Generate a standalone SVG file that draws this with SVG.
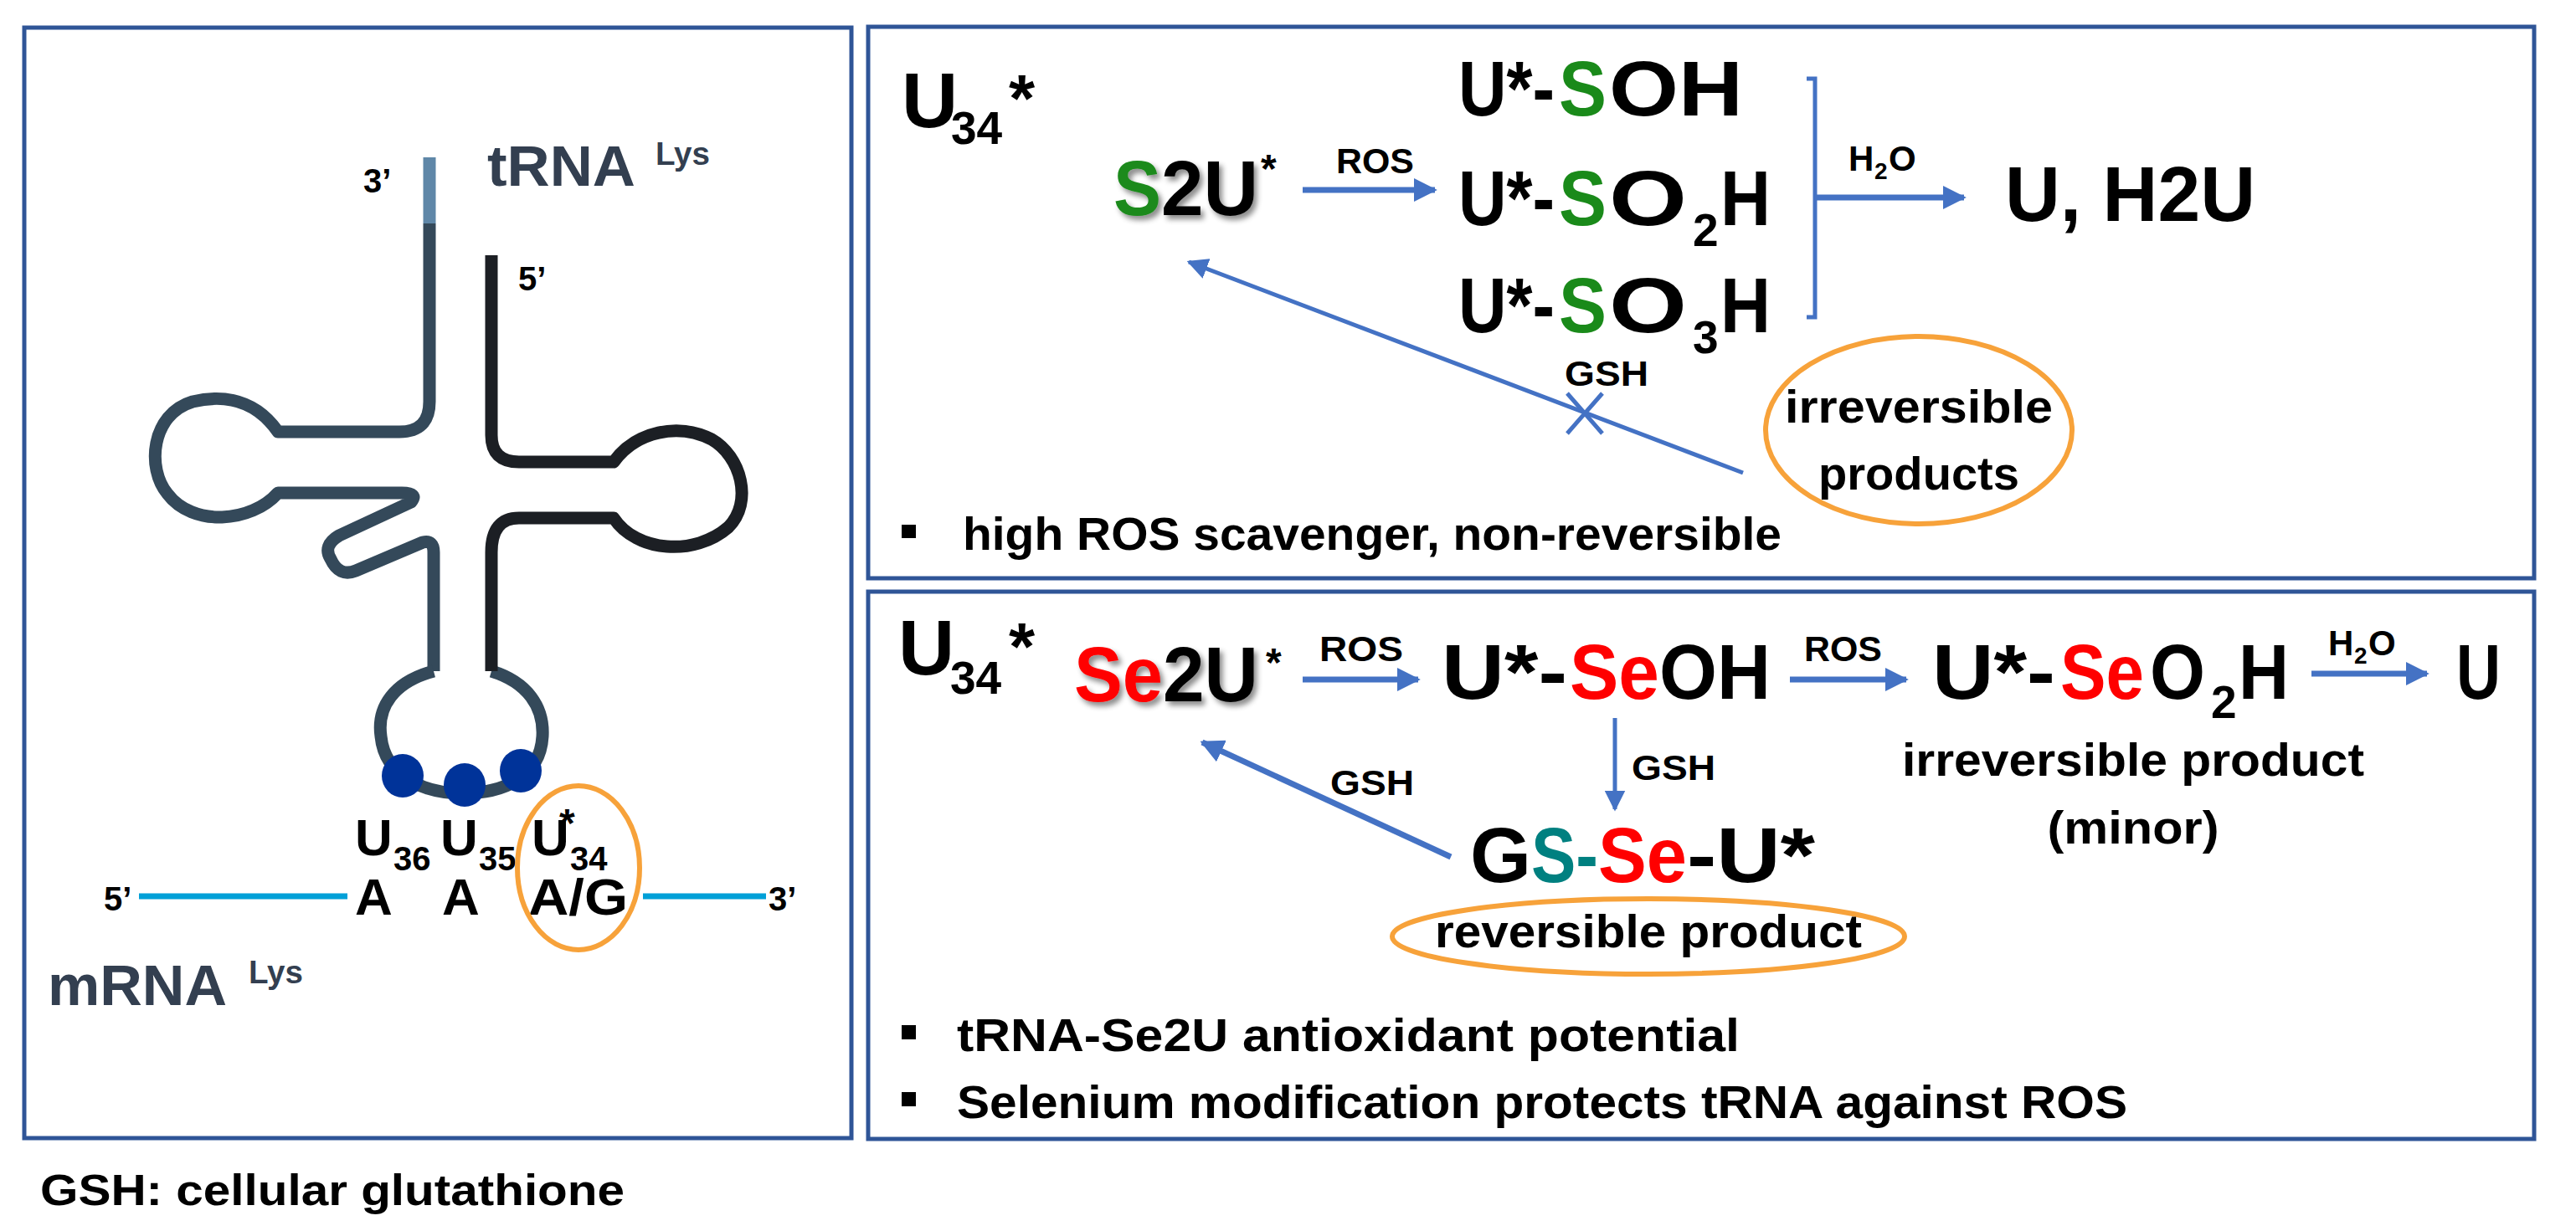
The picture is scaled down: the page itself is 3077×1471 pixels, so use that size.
<svg xmlns="http://www.w3.org/2000/svg" width="3077" height="1471" viewBox="0 0 3077 1471">
<style>
text{font-family:"Liberation Sans",Arial,sans-serif;font-weight:bold;fill:#000}
.panel{fill:#fff;stroke:#2f5597;stroke-width:5}
.arr{stroke:#4472c4;stroke-width:7;fill:none}
.thin{stroke:#4472c4;stroke-width:5;fill:none}
.g{fill:#1a8a1a}.r{fill:#ff0000}.t{fill:#008080}.sl{fill:#333f50}
.orange{fill:none;stroke:#f7a23a;stroke-width:6}
.big{font-size:93px}.sm{font-size:42px}.sub{font-size:55px}
</style>
<defs>
<marker id="ah" viewBox="0 0 10 10" refX="9" refY="5" markerWidth="4" markerHeight="4" orient="auto"><path d="M0,0L10,5L0,10z" fill="#4472c4"/></marker>
<marker id="ah2" viewBox="0 0 10 10" refX="9" refY="5" markerWidth="5" markerHeight="5" orient="auto"><path d="M0,0L10,5L0,10z" fill="#4472c4"/></marker>
<filter id="sh" x="-10%" y="-10%" width="130%" height="130%"><feDropShadow dx="4" dy="5" stdDeviation="3" flood-color="#000" flood-opacity="0.45"/></filter>
</defs>
<rect width="3077" height="1471" fill="#fff"/>

<g id="left-panel">
<rect class="panel" x="29" y="33" width="988" height="1327"/>
<g fill="none" stroke-width="15" stroke-linejoin="round">
<path d="M513,188V267" stroke="#5f87a8"/>
<path d="M513,267V480Q513,516 477,516H332C300,470 255,474 230,480C180,495 175,560 200,590C230,630 300,625 332,589H480Q500,589 491,600L405,640Q385,652 395,668Q405,690 425,682L505,648Q518,645 518,660V802" stroke="#34495a"/>
<path d="M518,802C470,815 450,845 455,880C460,930 510,948 552,948C600,948 645,930 648,880C650,845 630,815 587,802" stroke="#34495a"/>
<path d="M587,802V660Q587,619 620,619H733C760,660 830,665 870,630C900,600 885,545 850,525C810,505 760,515 733,552H620Q587,552 587,520V305" stroke="#1c1f24"/>
</g>
<g fill="#003399"><ellipse cx="481" cy="927" rx="25" ry="26"/><ellipse cx="555" cy="938" rx="25" ry="26"/><ellipse cx="622" cy="921" rx="25" ry="26"/></g>
<text class="sl" x="582" y="222" font-size="68" textLength="177" lengthAdjust="spacingAndGlyphs">tRNA</text>
<text class="sl" x="783" y="197" font-size="38" textLength="65" lengthAdjust="spacingAndGlyphs">Lys</text>
<text x="434" y="230" font-size="40">3’</text>
<text x="619" y="347" font-size="40">5’</text>
<path d="M166,1071H415M768,1071H915" stroke="#00a0d8" stroke-width="7"/>
<text x="124" y="1088" font-size="40">5’</text>
<text x="918" y="1088" font-size="40">3’</text>
<text x="424" y="1022" font-size="62">U</text><text x="470" y="1040" font-size="40">36</text>
<text x="526" y="1022" font-size="62">U</text><text x="572" y="1040" font-size="40">35</text>
<text x="635" y="1022" font-size="62">U</text><text x="681" y="1040" font-size="40">34</text>
<text x="668" y="1000" font-size="48">*</text>
<text x="424" y="1093" font-size="62">A</text>
<text x="528" y="1093" font-size="62">A</text>
<text x="631" y="1093" font-size="62" textLength="119" lengthAdjust="spacingAndGlyphs">A/G</text>
<ellipse class="orange" cx="691" cy="1037" rx="73" ry="98"/>
<text class="sl" x="57" y="1201" font-size="68" textLength="214" lengthAdjust="spacingAndGlyphs">mRNA</text>
<text class="sl" x="297" y="1175" font-size="38" textLength="65" lengthAdjust="spacingAndGlyphs">Lys</text>
</g>
<text x="48" y="1440" font-size="52" textLength="698" lengthAdjust="spacingAndGlyphs">GSH: cellular glutathione</text>

<g id="top-panel">
<rect class="panel" x="1037" y="32" width="1990" height="659"/>
<text class="big" x="1077" y="152">U</text><text class="sub" x="1136" y="172">34</text><text x="1205" y="145" font-size="80">*</text>
<g filter="url(#sh)"><text class="big g" x="1330" y="257" textLength="57" lengthAdjust="spacingAndGlyphs">S</text><text class="big" x="1387" y="257" textLength="116" lengthAdjust="spacingAndGlyphs">2U</text></g>
<text x="1506" y="218" font-size="48">*</text>
<text class="sm" x="1596" y="207" textLength="93" lengthAdjust="spacingAndGlyphs">ROS</text>
<text class="big" x="1742" y="138" textLength="115" lengthAdjust="spacingAndGlyphs">U*-</text><text class="big g" x="1862" y="138" textLength="57" lengthAdjust="spacingAndGlyphs">S</text><text class="big" x="1922" y="138" textLength="160" lengthAdjust="spacingAndGlyphs">OH</text>
<text class="big" x="1742" y="269" textLength="115" lengthAdjust="spacingAndGlyphs">U*-</text><text class="big g" x="1862" y="269" textLength="57" lengthAdjust="spacingAndGlyphs">S</text><text class="big" x="1922" y="269" textLength="93" lengthAdjust="spacingAndGlyphs">O</text><text class="sub" x="2022" y="294">2</text><text class="big" x="2055" y="269" textLength="60" lengthAdjust="spacingAndGlyphs">H</text>
<text class="big" x="1742" y="397" textLength="115" lengthAdjust="spacingAndGlyphs">U*-</text><text class="big g" x="1862" y="397" textLength="57" lengthAdjust="spacingAndGlyphs">S</text><text class="big" x="1922" y="397" textLength="93" lengthAdjust="spacingAndGlyphs">O</text><text class="sub" x="2022" y="422">3</text><text class="big" x="2055" y="397" textLength="60" lengthAdjust="spacingAndGlyphs">H</text>
<text class="sm" x="2208" y="204">H</text><text x="2239" y="214" font-size="28">2</text><text class="sm" x="2256" y="204">O</text>
<text class="big" x="2395" y="264" textLength="299" lengthAdjust="spacingAndGlyphs">U, H2U</text>
<ellipse class="orange" cx="2292" cy="514" rx="183" ry="112"/>
<text x="2292" y="505" font-size="56" text-anchor="middle" textLength="320" lengthAdjust="spacingAndGlyphs">irreversible</text>
<text x="2292" y="585" font-size="56" text-anchor="middle" textLength="240" lengthAdjust="spacingAndGlyphs">products</text>
<text class="sm" x="1919" y="461" text-anchor="middle" textLength="100" lengthAdjust="spacingAndGlyphs">GSH</text>
<rect x="1077" y="627" width="17" height="16"/>
<text x="1150" y="657" font-size="56" textLength="978" lengthAdjust="spacingAndGlyphs">high ROS scavenger, non-reversible</text>
</g>

<g id="bottom-panel">
<rect class="panel" x="1037" y="707" width="1990" height="654"/>
<text class="big" x="1073" y="806">U</text><text class="sub" x="1135" y="829">34</text><text x="1205" y="800" font-size="80">*</text>
<g filter="url(#sh)"><text class="big r" x="1283" y="838" textLength="106" lengthAdjust="spacingAndGlyphs">Se</text><text class="big" x="1389" y="838" textLength="114" lengthAdjust="spacingAndGlyphs">2U</text></g>
<text x="1512" y="808" font-size="48">*</text>
<text class="sm" x="1576" y="790" textLength="100" lengthAdjust="spacingAndGlyphs">ROS</text>
<text class="big" x="1722" y="835" textLength="150" lengthAdjust="spacingAndGlyphs">U*-</text><text class="big r" x="1875" y="835" textLength="107" lengthAdjust="spacingAndGlyphs">Se</text><text class="big" x="1982" y="835" textLength="133" lengthAdjust="spacingAndGlyphs">OH</text>
<text class="sm" x="2155" y="790" textLength="93" lengthAdjust="spacingAndGlyphs">ROS</text>
<text class="big" x="2308" y="835" textLength="147" lengthAdjust="spacingAndGlyphs">U*-</text><text class="big r" x="2461" y="835" textLength="100" lengthAdjust="spacingAndGlyphs">Se</text><text class="big" x="2568" y="835" textLength="66" lengthAdjust="spacingAndGlyphs">O</text><text class="sub" x="2641" y="858">2</text><text class="big" x="2674" y="835" textLength="60" lengthAdjust="spacingAndGlyphs">H</text>
<text class="sm" x="2781" y="783">H</text><text x="2812" y="793" font-size="28">2</text><text class="sm" x="2829" y="783">O</text>
<text class="big" x="2934" y="835" textLength="53" lengthAdjust="spacingAndGlyphs">U</text>
<text class="sm" x="1949" y="932" textLength="100" lengthAdjust="spacingAndGlyphs">GSH</text>
<text class="sm" x="1589" y="950" textLength="100" lengthAdjust="spacingAndGlyphs">GSH</text>
<text x="2548" y="927" font-size="56" text-anchor="middle" textLength="552" lengthAdjust="spacingAndGlyphs">irreversible product</text>
<text x="2548" y="1008" font-size="56" text-anchor="middle" textLength="205" lengthAdjust="spacingAndGlyphs">(minor)</text>
<text class="big" x="1756" y="1054" textLength="73" lengthAdjust="spacingAndGlyphs">G</text><text class="big t" x="1829" y="1054" textLength="80" lengthAdjust="spacingAndGlyphs">S-</text><text class="big r" x="1909" y="1054" textLength="106" lengthAdjust="spacingAndGlyphs">Se</text><text class="big" x="2015" y="1054" textLength="153" lengthAdjust="spacingAndGlyphs">-U*</text>
<ellipse class="orange" cx="1969" cy="1119" rx="306" ry="45"/>
<text x="1969" y="1132" font-size="56" text-anchor="middle" textLength="510" lengthAdjust="spacingAndGlyphs">reversible product</text>
<rect x="1077" y="1225" width="17" height="17"/>
<text x="1143" y="1256" font-size="56" textLength="935" lengthAdjust="spacingAndGlyphs">tRNA-Se2U antioxidant potential</text>
<rect x="1077" y="1305" width="17" height="17"/>
<text x="1143" y="1336" font-size="56" textLength="1398" lengthAdjust="spacingAndGlyphs">Selenium modification protects tRNA against ROS</text>
</g>

<g id="connectors">
<path class="arr" d="M1556,227H1714" marker-end="url(#ah)"/>
<path class="thin" d="M2158,94H2168V379H2158"/>
<path class="arr" d="M2170,236H2346" marker-end="url(#ah)"/>
<path class="thin" d="M2082,565L1420,313" marker-end="url(#ah2)"/>
<path class="thin" d="M1872,470L1914,518M1914,470L1872,518"/>
<path class="arr" d="M1556,812H1694" marker-end="url(#ah)"/>
<path class="arr" d="M2138,812H2277" marker-end="url(#ah)"/>
<path class="arr" d="M2761,805H2899" marker-end="url(#ah)"/>
<path class="thin" d="M1929,858V967" marker-end="url(#ah2)"/>
<path class="arr" d="M1733,1024L1436,887" marker-end="url(#ah)"/>
</g>
</svg>
